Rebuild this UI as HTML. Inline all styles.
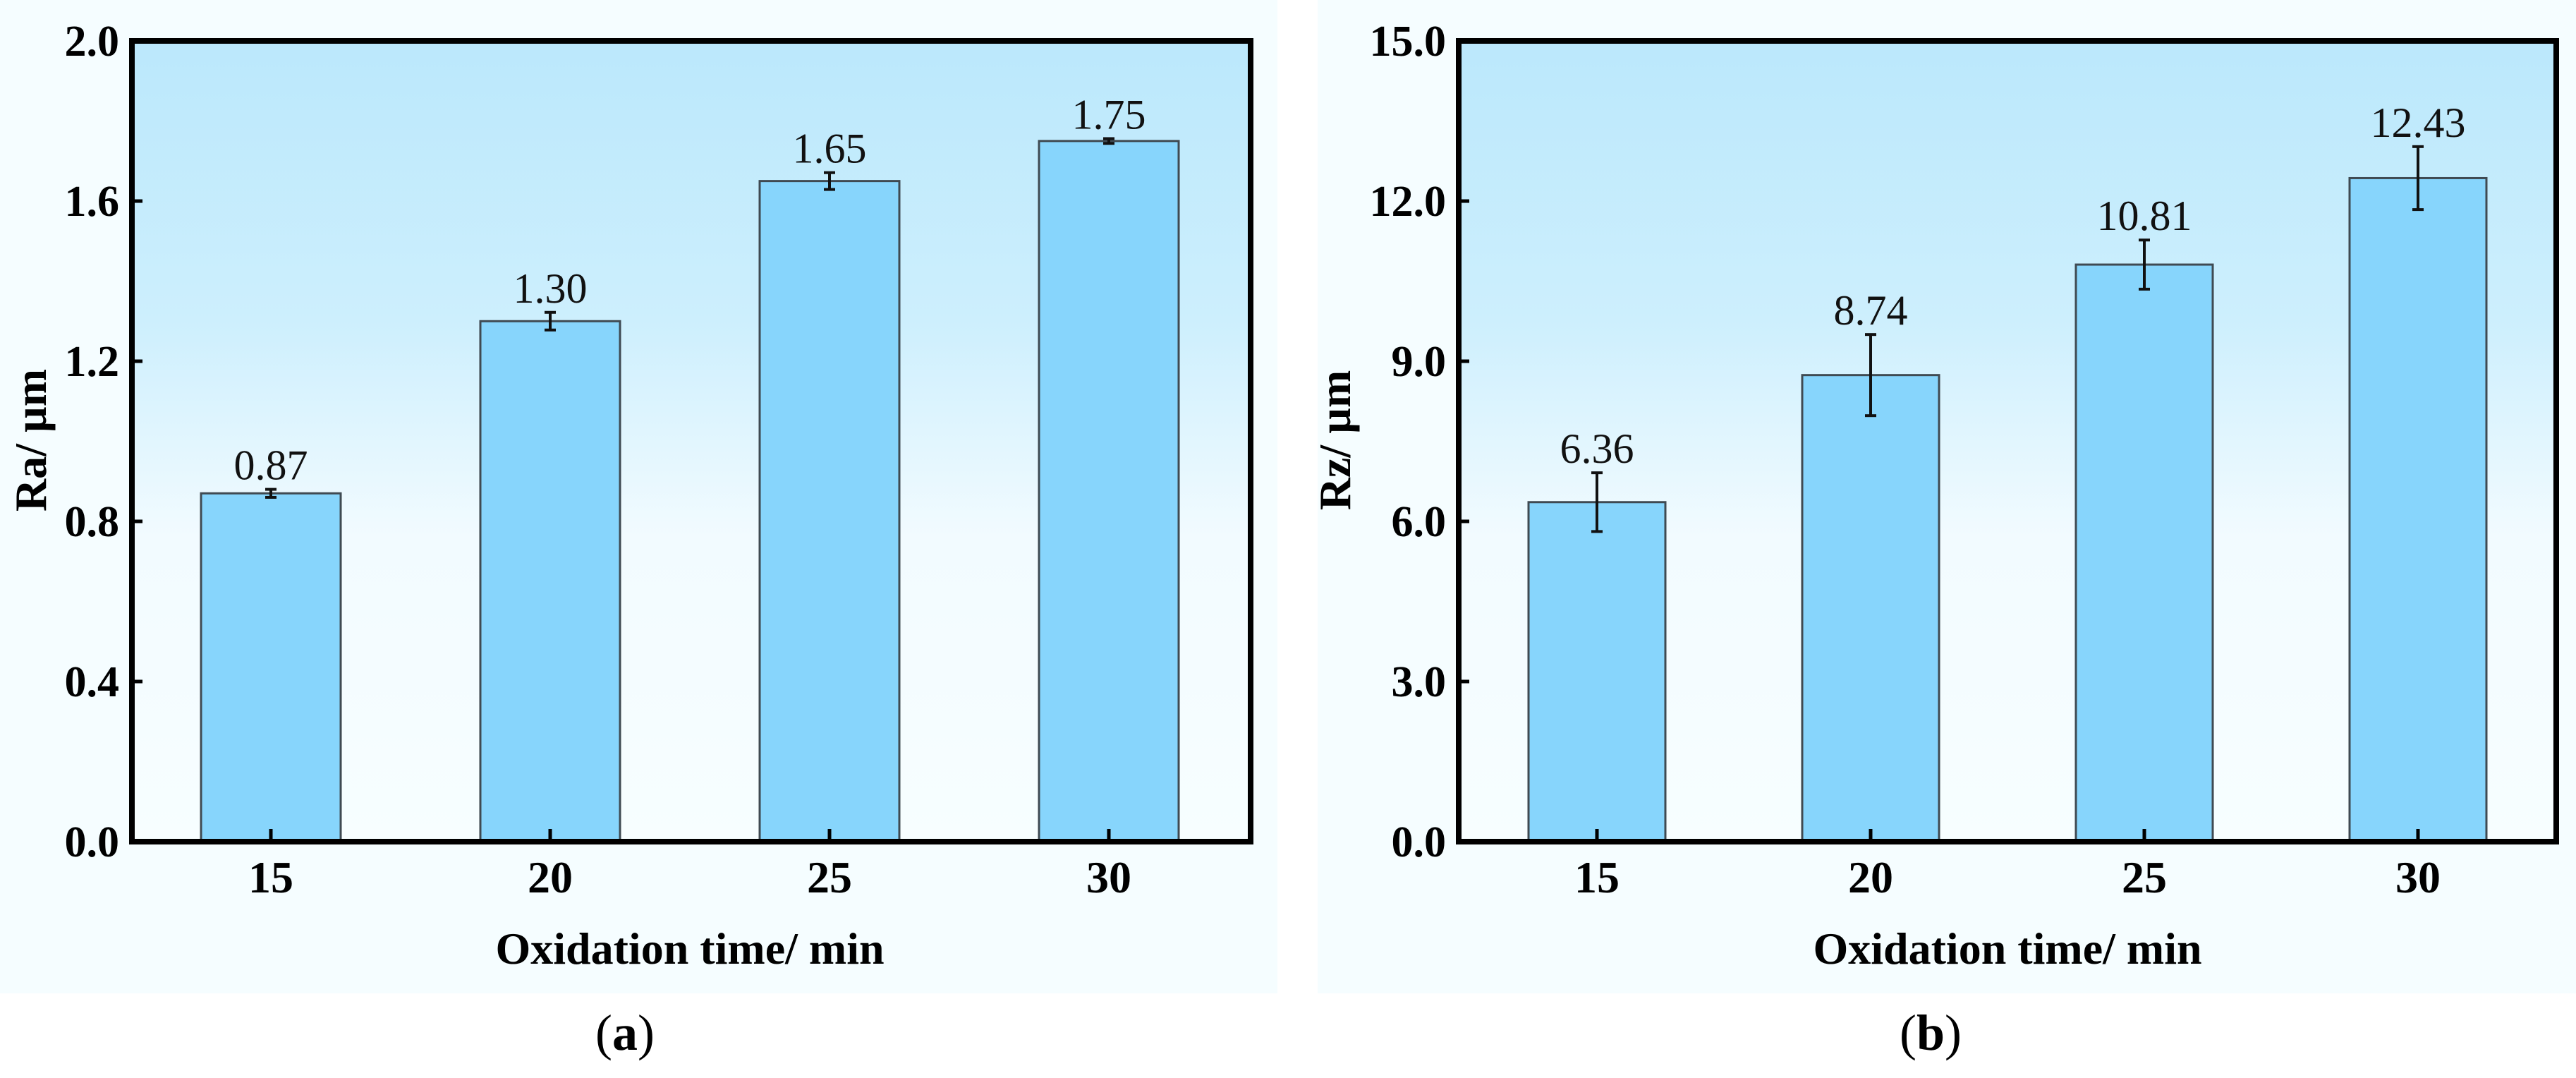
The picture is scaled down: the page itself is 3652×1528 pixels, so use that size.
<!DOCTYPE html>
<html><head><meta charset="utf-8"><style>
html,body{margin:0;padding:0;background:#fff;}
svg{display:block;}
text{font-family:"Liberation Serif",serif;}
</style></head><body>
<svg id="fig" width="3652" height="1528" viewBox="0 0 3652 1528" xmlns="http://www.w3.org/2000/svg">
<defs>
<linearGradient id="plotbg" x1="0" y1="0" x2="0" y2="1">
<stop offset="0" stop-color="#bbe8fc"/>
<stop offset="0.35" stop-color="#cdeffd"/>
<stop offset="0.62" stop-color="#f2fbff"/>
<stop offset="1" stop-color="#f7feff"/>
</linearGradient>
</defs>
<rect x="0" y="0" width="1811" height="1408" fill="#f5fdff"/>
<rect x="1868" y="0" width="1784" height="1408" fill="#f5fdff"/>
<g id="charts"></g>
<text x="886" y="1488" font-size="72" text-anchor="middle">(<tspan font-weight="bold">a</tspan>)</text>
<text x="2737" y="1488" font-size="72" text-anchor="middle">(<tspan font-weight="bold">b</tspan>)</text>
</svg>
<script>
const categories = ["15","20","25","30"];
const raValues = [0.87, 1.30, 1.65, 1.75];
const raErrors = [0.01, 0.022, 0.021, 0.006];
const raLabels = ["0.87","1.30","1.65","1.75"];
const raTicks = [0, 0.4, 0.8, 1.2, 1.6, 2.0];
const raTickLabels = ["0.0","0.4","0.8","1.2","1.6","2.0"];
const rzValues = [6.36, 8.74, 10.81, 12.43];
const rzErrors = [0.55, 0.76, 0.46, 0.59];
const rzLabels = ["6.36","8.74","10.81","12.43"];
const rzTicks = [0, 3, 6, 9, 12, 15];
const rzTickLabels = ["0.0","3.0","6.0","9.0","12.0","15.0"];

const NS = "http://www.w3.org/2000/svg";
const root = document.getElementById("charts");
function mk(tag, attrs, parent, txt){
  const e = document.createElementNS(NS, tag);
  for (const k in attrs) e.setAttribute(k, attrs[k]);
  if (txt !== undefined) e.textContent = txt;
  parent.appendChild(e);
  return e;
}
function drawChart(cfg){
  const g = mk("g", {}, root);
  
  
  const L=cfg.left, R=cfg.right, T=58, B=1193;
  const yS = v => B - (v - 0) / (cfg.ymax - 0) * (B - T);
  const xS = i => cfg.x0 + cfg.step * i;
  const bg = mk("rect", {x:L, y:T, width:R-L, height:B-T, fill:"url(#plotbg)"}, g);
  
  
  cfg.values.forEach((v,i)=>{
    const cx = xS(i), w = cfg.barW;
    const bar = mk("rect", {x:cx-w/2, y:yS(v), width:w, height:B-yS(v), fill:"#87d5fc", stroke:"#3f4a52", "stroke-width":3}, g);
    
    
    const e = cfg.errors[i];
    const eg = mk("g", {stroke:"#111", "stroke-width":4}, g);
    
    
    mk("line", {x1:cx, x2:cx, y1:yS(v+e), y2:yS(v-e)}, eg);
    mk("line", {x1:cx-8, x2:cx+8, y1:yS(v+e), y2:yS(v+e)}, eg);
    mk("line", {x1:cx-8, x2:cx+8, y1:yS(v-e), y2:yS(v-e)}, eg);
    const lb = mk("text", {x:cx, y:yS(v+e)-14, "font-size":60, "text-anchor":"middle", fill:"#111"}, g, cfg.labels[i]);
    
    
    const tk = mk("line", {x1:cx, x2:cx, y1:B, y2:B-18, stroke:"#000", "stroke-width":5}, g);
    
    
    const tl = mk("text", {x:cx, y:1265, "font-size":64, "font-weight":"bold", "text-anchor":"middle"}, g, categories[i]);
    
    
  });
  cfg.ticks.forEach((t,i)=>{
    const y = yS(t);
    if (i>0 && i<cfg.ticks.length-1){
      const tk = mk("line", {x1:L, x2:L+15, y1:y, y2:y, stroke:"#000", "stroke-width":5}, g);
      
      
    }
    const tl = mk("text", {x:L-18, y:y+21, "font-size":62, "font-weight":"bold", "text-anchor":"end"}, g, cfg.tickLabels[i]);
    
    
  });
  const fr = mk("rect", {x:L, y:T, width:R-L, height:B-T, fill:"none", stroke:"#000", "stroke-width":8}, g);
  
  
  const xt = mk("text", {x:cfg.xTitleX, y:1366, "font-size":64, "font-weight":"bold", "text-anchor":"middle"}, g, "Oxidation time/ min");
  
  
  const yt = mk("text", {x:0, y:0, "font-size":64, "font-weight":"bold", "text-anchor":"middle", transform:"translate("+(cfg.yTitleX+22)+",624) rotate(-90)"}, g, cfg.yTitle);
  
  
}
drawChart({name:"chart-ra", left:187, right:1773, x0:384, step:396, barW:198, ymax:2.0,
  values:raValues, errors:raErrors, labels:raLabels, ticks:raTicks, tickLabels:raTickLabels,
  xTitleX:978, yTitleX:43, yTitle:"Ra/ µm"});
drawChart({name:"chart-rz", left:2068, right:3624, x0:2264, step:388, barW:194, ymax:15,
  values:rzValues, errors:rzErrors, labels:rzLabels, ticks:rzTicks, tickLabels:rzTickLabels,
  xTitleX:2846, yTitleX:1892, yTitle:"Rz/ µm"});
</script>
</body></html>
